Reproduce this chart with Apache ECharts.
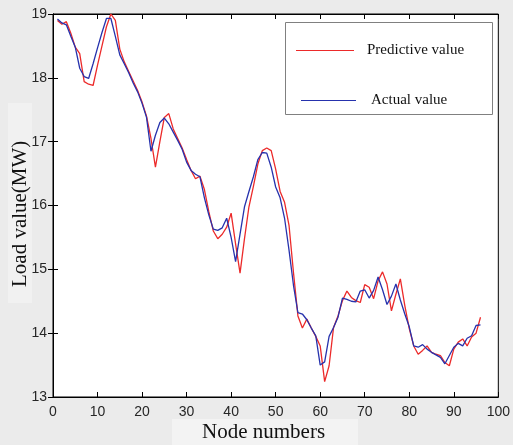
<!DOCTYPE html>
<html><head><meta charset="utf-8">
<script src="https://cdn.jsdelivr.net/npm/echarts@6/dist/echarts.min.js"></script>
<style>html,body{margin:0;padding:0;background:#ebebeb}#c{width:513px;height:445px}</style>
</head><body><div id="c"></div>
<script>
var nodes = [];
for (var i = 1; i <= 96; i++) nodes.push(i);
var actualValue = [18.92,18.86,18.83,18.65,18.48,18.15,18.02,17.99,18.22,18.47,
 18.71,18.93,18.93,18.65,18.36,18.22,18.08,17.92,17.78,17.60,
 17.38,16.85,17.10,17.30,17.37,17.28,17.15,17.02,16.88,16.68,
 16.55,16.49,16.45,16.12,15.85,15.63,15.61,15.65,15.80,15.50,
 15.12,15.55,15.98,16.22,16.45,16.72,16.83,16.82,16.60,16.29,
 16.12,15.80,15.30,14.75,14.32,14.30,14.21,14.08,13.96,13.50,
 13.55,13.95,14.09,14.25,14.55,14.53,14.50,14.49,14.66,14.68,
 14.55,14.67,14.88,14.68,14.45,14.58,14.77,14.52,14.30,14.10,
 13.80,13.78,13.82,13.75,13.70,13.66,13.62,13.52,13.65,13.78,
 13.84,13.80,13.92,13.96,14.12,14.13];
var predictiveValue = [18.90,18.84,18.88,18.70,18.48,18.38,17.94,17.90,17.88,18.20,
 18.50,18.80,19.00,18.90,18.45,18.25,18.10,17.95,17.80,17.62,
 17.40,17.05,16.60,17.00,17.38,17.44,17.20,17.05,16.90,16.72,
 16.55,16.42,16.46,16.25,15.90,15.60,15.48,15.55,15.66,15.88,
 15.40,14.94,15.48,15.98,16.30,16.65,16.86,16.90,16.86,16.57,
 16.22,16.05,15.69,14.95,14.27,14.08,14.22,14.08,13.95,13.80,
 13.24,13.49,14.09,14.27,14.51,14.66,14.56,14.51,14.48,14.76,
 14.72,14.54,14.82,14.96,14.77,14.35,14.61,14.85,14.43,14.07,
 13.80,13.67,13.73,13.80,13.70,13.67,13.65,13.54,13.49,13.75,
 13.86,13.91,13.80,13.94,14.00,14.25];
var xTicks = [0,10,20,30,40,50,60,70,80,90,100];
var yTicks = [13,14,15,16,17,18,19];

function pairs(v){ return nodes.map(function(n,i){ return [n, v[i]]; }); }

var chart = echarts.init(document.getElementById('c'), null, {renderer:'canvas'});
var tickLab = {color:'#262626', fontFamily:'Liberation Sans', fontSize:14};
var axLine = {lineStyle:{color:'#000', width:1}};
chart.setOption({
  backgroundColor:'#ebebeb',
  animation:false,
  grid:{left:53, right:13, top:14, bottom:48, show:true, backgroundColor:'#fff', borderColor:'#000', borderWidth:1},
  graphic:[
    {type:'rect', left:172, top:419, shape:{width:186, height:26}, style:{fill:'#f3f3f3'}, z:-1},
    {type:'rect', left:8, top:103, shape:{width:24, height:200}, style:{fill:'#f1f1f1'}, z:-1},
    {type:'text', left:202, top:422, style:{text:'Node numbers', font:'21px "Liberation Serif"', fill:'#111'}},
    {type:'text', x:10, y:287, rotation:Math.PI/2, style:{text:'Load value(MW)', font:'21px "Liberation Serif"', fill:'#111'}},
    {type:'rect', left:285, top:22, shape:{width:207, height:92}, style:{fill:'#fff', stroke:'#808080', lineWidth:1}, z:10}
  ],
  legend:[
    {data:['Predictive value'], left:291, top:38, itemWidth:58, itemHeight:1, icon:'rect',
     textStyle:{fontFamily:'Liberation Serif', fontSize:15, color:'#111', padding:[0,0,0,8]}, z:11},
    {data:['Actual value'], left:296, top:88, itemWidth:55, itemHeight:1, icon:'rect',
     textStyle:{fontFamily:'Liberation Serif', fontSize:15, color:'#111', padding:[0,0,0,10]}, z:11}
  ],
  xAxis:[
    {type:'value', min:0, max:100, interval:10, axisLine:axLine,
     axisTick:{inside:true, length:5, lineStyle:{color:'#000'}}, axisLabel:Object.assign({margin:8, formatter:function(v){return xTicks.indexOf(v)>=0?v:'';}}, tickLab), splitLine:{show:false}},
    {type:'value', min:0, max:100, interval:10, position:'top', axisLine:axLine,
     axisTick:{inside:true, length:5, lineStyle:{color:'#000'}}, axisLabel:{show:false}, splitLine:{show:false}}
  ],
  yAxis:[
    {type:'value', min:13, max:19, interval:1, axisLine:axLine,
     axisTick:{inside:true, length:5, lineStyle:{color:'#000'}}, axisLabel:Object.assign({margin:6, formatter:function(v){return yTicks.indexOf(v)>=0?v:'';}}, tickLab), splitLine:{show:false}},
    {type:'value', min:13, max:19, interval:1, position:'right', axisLine:axLine,
     axisTick:{inside:true, length:5, lineStyle:{color:'#000'}}, axisLabel:{show:false}, splitLine:{show:false}}
  ],
  series:[
    {name:'Predictive value', type:'line', data:pairs(predictiveValue), symbol:'none', color:'#ec2a2a',
     lineStyle:{color:'#ec2a2a', width:1.3}},
    {name:'Actual value', type:'line', data:pairs(actualValue), symbol:'none', color:'#2632ad',
     lineStyle:{color:'#2632ad', width:1.3}}
  ]
});
</script></body></html>
